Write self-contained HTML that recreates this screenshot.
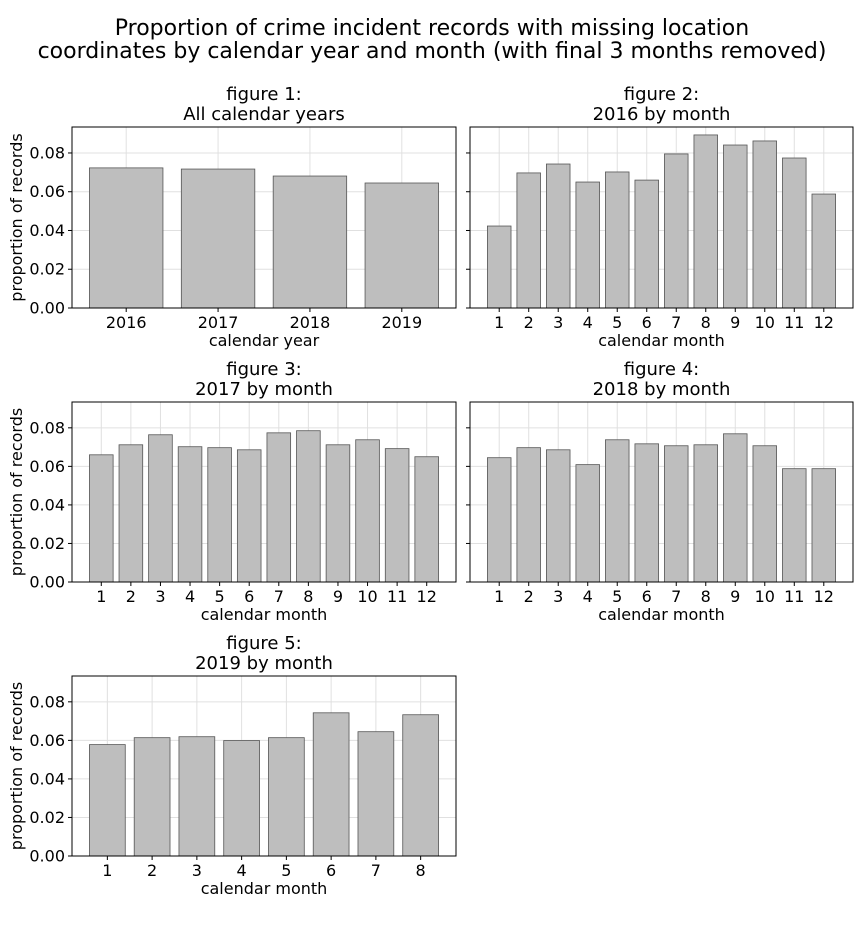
<!DOCTYPE html>
<html><head><meta charset="utf-8"><style>
body{margin:0;background:#fff;font-family:"Liberation Sans","DejaVu Sans",sans-serif;}
svg text{font-family:"DejaVu Sans","Liberation Sans",sans-serif;fill:#000;}
</style></head><body>
<svg id="chart" width="864" height="936" viewBox="0 0 864 936" xmlns="http://www.w3.org/2000/svg">
<text x="432" y="35" font-size="22" text-anchor="middle">Proportion of crime incident records with missing location</text>
<text x="432" y="58" font-size="22" text-anchor="middle">coordinates by calendar year and month (with final 3 months removed)</text>
</svg>
<script>
const fig1Cats = ["2016","2017","2018","2019"];
const fig1Vals = [0.0723,0.0717,0.0681,0.0645];
const monthCats12 = ["1","2","3","4","5","6","7","8","9","10","11","12"];
const fig2Vals = [0.0423,0.0697,0.0743,0.065,0.0702,0.066,0.0795,0.0893,0.0841,0.0862,0.0774,0.0588];
const fig3Vals = [0.066,0.0712,0.0764,0.0702,0.0697,0.0686,0.0774,0.0785,0.0712,0.0738,0.0692,0.065];
const fig4Vals = [0.0645,0.0697,0.0686,0.0609,0.0738,0.0717,0.0707,0.0712,0.0769,0.0707,0.0588,0.0588];
const fig5Cats = ["1","2","3","4","5","6","7","8"];
const fig5Vals = [0.0578,0.0614,0.0619,0.0599,0.0614,0.0743,0.0645,0.0733];
const yTicks = [0,0.02,0.04,0.06,0.08];
const yTickLabels = ["0.00","0.02","0.04","0.06","0.08"];
const yMax = 0.0934;

const NS="http://www.w3.org/2000/svg";
const svg=document.getElementById('chart');
function mk(tag,attrs,parent){const e=document.createElementNS(NS,tag);for(const k in attrs)e.setAttribute(k,attrs[k]);(parent||svg).appendChild(e);return e;}

function panel(id,x0,y0,w,h,cats,vals,t1,t2,xlabel,showY){
  const g=mk('g',{});
  
  
  const n=cats.length;
  const span=(n-1)+0.8, m=span*0.05;
  const lo=-0.4-m, hi=n-1+0.4+m;
  const xs=v=>x0+(v-lo)/(hi-lo)*w;
  const ys=v=>y0+h-(v/yMax)*h;
  yTicks.forEach(t=>{const l=mk('line',{x1:x0,x2:x0+w,y1:ys(t),y2:ys(t),stroke:'#e0e0e0','stroke-width':1},g);
    });
  cats.forEach((c,i)=>{const l=mk('line',{x1:xs(i),x2:xs(i),y1:y0,y2:y0+h,stroke:'#e0e0e0','stroke-width':1},g);
    });
  vals.forEach((v,i)=>{const r=mk('rect',{x:xs(i-0.4),y:ys(v),width:xs(i+0.4)-xs(i-0.4),height:ys(0)-ys(v),fill:'#bebebe',stroke:'#555','stroke-width':0.8},g);
    });
  const f=mk('rect',{x:x0,y:y0,width:w,height:h,fill:'none',stroke:'#000','stroke-width':1},g);
  
  yTicks.forEach((t,i)=>{mk('line',{x1:x0-4,x2:x0,y1:ys(t),y2:ys(t),stroke:'#000'},g);
    if(showY){const tx=mk('text',{x:x0-7,y:ys(t)+5.5,'font-size':16,'text-anchor':'end'},g);tx.textContent=yTickLabels[i];
      }});
  cats.forEach((c,i)=>{mk('line',{x1:xs(i),x2:xs(i),y1:y0+h,y2:y0+h+4,stroke:'#000'},g);
    const tx=mk('text',{x:xs(i),y:y0+h+20,'font-size':16,'text-anchor':'middle'},g);tx.textContent=c;
    });
  const xl=mk('text',{x:x0+w/2,y:y0+h+38,'font-size':16,'text-anchor':'middle'},g);xl.textContent=xlabel;
  
  if(showY){const yl=mk('text',{x:0,y:0,'font-size':16,'text-anchor':'middle',transform:`translate(22,${y0+h/2}) rotate(-90)`},g);yl.textContent='proportion of records';
    }
  const a=mk('text',{x:x0+w/2,y:y0-27,'font-size':18,'text-anchor':'middle'},g);a.textContent=t1;
  
  const b=mk('text',{x:x0+w/2,y:y0-7,'font-size':18,'text-anchor':'middle'},g);b.textContent=t2;
  
}
panel('figure-1',72,127,384,181,fig1Cats,fig1Vals,'figure 1:','All calendar years','calendar year',true);
panel('figure-2',470,127,383,181,monthCats12,fig2Vals,'figure 2:','2016 by month','calendar month',false);
panel('figure-3',72,402,384,180,monthCats12,fig3Vals,'figure 3:','2017 by month','calendar month',true);
panel('figure-4',470,402,383,180,monthCats12,fig4Vals,'figure 4:','2018 by month','calendar month',false);
panel('figure-5',72,676,384,180,fig5Cats,fig5Vals,'figure 5:','2019 by month','calendar month',true);
</script>
</body></html>
